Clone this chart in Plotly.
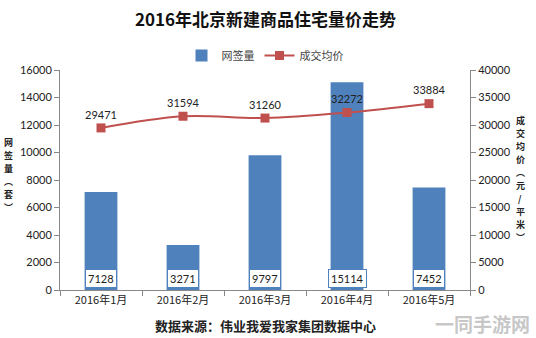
import plotly.graph_objects as go

months = ["2016年1月", "2016年2月", "2016年3月", "2016年4月", "2016年5月"]
volume = [7128, 3271, 9797, 15114, 7452]
avg_price = [29471, 31594, 31260, 32272, 33884]

left_title = ["网", "签", "量", "︵", "套", "︶"]
right_title = ["成", "交", "均", "价", "︵", "元", "/", "平", "米", "︶"]

BLUE = "#4F81BD"
RED = "#C0504D"
AXIS = "#888888"
CJK = "Noto Sans CJK SC"
NUM = "Lato, Liberation Sans, sans-serif"

W, H = 536, 338
M_L, M_R, M_T, M_B = 60, 66, 70, 48
PLOT_H = H - M_T - M_B


def paper_y(py):
    # convert a pixel row to paper coordinates
    return (H - M_B - py) / PLOT_H


fig = go.Figure()

fig.add_trace(go.Bar(
    x=months, y=volume, name="网签量",
    marker=dict(color=BLUE, line=dict(width=0)),
    width=0.4,
))

fig.add_trace(go.Scatter(
    x=months, y=avg_price, name="成交均价", yaxis="y2",
    mode="lines+markers+text",
    line=dict(color=RED, width=2, shape="spline"),
    marker=dict(symbol="square", size=9, color=RED),
    text=[str(v) for v in avg_price], textposition="top center",
    textfont=dict(family=NUM, size=11, color="#222222"),
    cliponaxis=False,
))

# value boxes at the foot of each bar
annotations = [
    dict(x=m, y=870, xref="x", yref="y", text=str(v), showarrow=False,
         bgcolor="white", bordercolor=BLUE, borderwidth=1, borderpad=2,
         font=dict(family=NUM, size=11, color="#222222"))
    for m, v in zip(months, volume)
]

# vertical axis titles, one character per line
for i, ch in enumerate(left_title):
    annotations.append(dict(
        x=0, y=paper_y(142 + i * 13), xref="paper", yref="paper",
        xanchor="center", yanchor="middle", xshift=-52, showarrow=False,
        text="<b>" + ch + "</b>", font=dict(family=CJK, size=9, color="#222222")))
for i, ch in enumerate(right_title):
    annotations.append(dict(
        x=1, y=paper_y(120 + i * 13), xref="paper", yref="paper",
        xanchor="center", yanchor="middle", xshift=50, showarrow=False,
        text="<b>" + ch + "</b>", font=dict(family=CJK, size=9, color="#222222")))

annotations += [
    dict(x=0.5, y=1.0, xref="paper", yref="paper", yanchor="middle", yshift=52,
         text="<b>2016年北京新建商品住宅量价走势</b>", showarrow=False,
         font=dict(family=CJK, size=17, color="#111111")),
    dict(x=0.5, y=0, xref="paper", yref="paper", yanchor="top", yshift=-24,
         text="<b>数据来源：伟业我爱我家集团数据中心</b>", showarrow=False,
         font=dict(family=CJK, size=13, color="#222222")),
    dict(x=1.0, y=0, xref="paper", yref="paper", xanchor="right", yanchor="top",
         xshift=62, yshift=-18,
         text="<b>一同手游网</b>", showarrow=False,
         font=dict(family=CJK, size=19, color="rgba(150,150,150,0.55)")),
]

fig.update_layout(
    width=W, height=H,
    margin=dict(l=M_L, r=M_R, t=M_T, b=M_B),
    paper_bgcolor="white", plot_bgcolor="white",
    showlegend=True,
    legend=dict(orientation="h", x=0.5, xanchor="center", y=1.0, yanchor="bottom",
                yref="paper", font=dict(family=CJK, size=11, color="#444444"),
                itemwidth=30, traceorder="normal"),
    xaxis=dict(showline=True, linecolor=AXIS, ticks="outside", tickcolor=AXIS,
               ticklen=5, tickson="boundaries", showgrid=False,
               tickfont=dict(family=CJK, size=11, color="#222222")),
    yaxis=dict(range=[0, 16000], dtick=2000, showline=True, linecolor=AXIS,
               ticks="outside", tickcolor=AXIS, ticklen=5, showgrid=False,
               zeroline=False, tickformat="d",
               tickfont=dict(family=NUM, size=11, color="#222222")),
    yaxis2=dict(range=[0, 40000], dtick=5000, overlaying="y", side="right",
                showline=True, linecolor=AXIS, ticks="outside", tickcolor=AXIS,
                ticklen=5, showgrid=False, zeroline=False, tickformat="d",
                tickfont=dict(family=NUM, size=11, color="#222222")),
    annotations=annotations,
)

fig.write_html("out.html")
